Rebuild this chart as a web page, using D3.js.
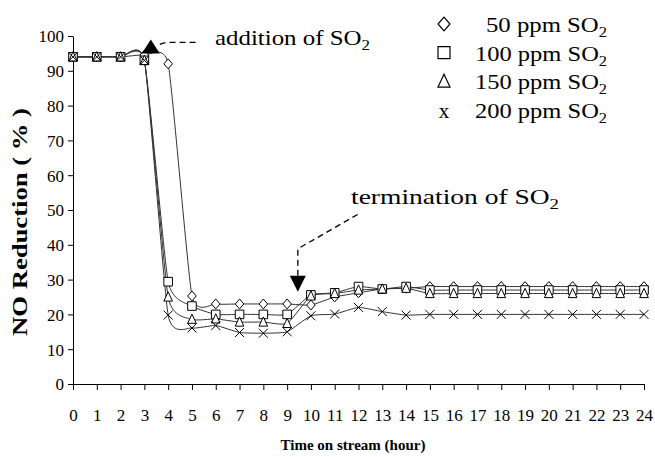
<!DOCTYPE html>
<html>
<head>
<meta charset="utf-8">
<script src="https://cdn.jsdelivr.net/npm/d3@7"></script>
</head>
<body style="margin:0;background:#fff">
<div id="chart"></div>
<script>
// hours on stream
var hours = [0, 1, 2, 3, 4, 5, 6, 7, 8, 9, 10, 11, 12, 13, 14, 15, 16, 17, 18, 19, 20, 21, 22, 23, 24];
// NO reduction (%) per SO2 level
var so2_50  = [94, 94, 94, 94.5, 92, 25.3, 23, 23, 23, 23, 22.7, 25, 26.2, 27.3, 27.5, 28, 28, 28, 28, 28, 28, 28, 28, 28, 28];
var so2_100 = [94, 94, 94, 93, 29.4, 22.4, 20, 20, 20, 20, 25.6, 26.2, 28, 27.3, 28, 27, 27, 27, 27, 27, 27, 27, 27, 27, 27];
var so2_150 = [94, 94, 94, 93, 25, 18.6, 18.7, 17.8, 17.8, 17.4, 25.3, 26, 27, 27.3, 27.5, 26, 26, 26, 26, 26, 26, 26, 26, 26, 26];
var so2_200 = [94, 94, 94, 93, 19.8, 16.1, 16.8, 14.8, 14.6, 15, 19.6, 20.1, 22, 20.8, 19.8, 20, 20, 20, 20, 20, 20, 20, 20, 20, 20];
var seriesLabels = ["50 ppm SO", "100 ppm SO", "150 ppm SO", "200 ppm SO"];
var seriesSymbols = ["diamond", "square", "triangle", "cross"];
var yTicks = [0, 10, 20, 30, 40, 50, 60, 70, 80, 90, 100];
// annotation anchors: [hour, %]
var additionAt = [3.27, 95];
var terminationAt = [9.45, 26.5];

var W = 655, H = 457;
var FONT = "Liberation Serif";
var svg = d3.select("#chart").append("svg")
    .attr("width", W)
    .attr("height", H)
    .style("display", "block");

function label(sel, size) {
  return sel.append("text")
      .attr("font-family", FONT)
      .attr("font-size", size)
      .attr("fill", "#000");
}

var x = d3.scaleLinear().domain([0, 24]).range([73, 644]);
var y = d3.scaleLinear().domain([0, 100]).range([384, 36]);

// axes
var xAxis = svg.append("g")
    .attr("transform", "translate(0," + y(0) + ")")
    .call(d3.axisBottom(x).tickValues(hours).tickSize(6).tickSizeOuter(0).tickFormat(d3.format("d")));
xAxis.select(".domain").attr("stroke", "#000");
xAxis.selectAll(".tick line").attr("stroke", "#000");
xAxis.selectAll(".tick text")
    .attr("font-family", FONT)
    .attr("font-size", 17)
    .attr("y", 0).attr("dy", 0)
    .attr("transform", "translate(0,37)")
    .attr("fill", "#000");

var yAxis = svg.append("g")
    .attr("transform", "translate(" + x(0) + ",0)")
    .call(d3.axisLeft(y).tickValues(yTicks).tickSize(5).tickSizeOuter(0));
yAxis.select(".domain").attr("stroke", "#000");
yAxis.selectAll(".tick line").attr("stroke", "#000");
yAxis.selectAll(".tick text")
    .attr("font-family", FONT)
    .attr("font-size", 17)
    .attr("x", -9)
    .attr("dy", "0.35em")
    .attr("fill", "#000");

// axis titles
label(svg, 15)
    .attr("x", 353).attr("y", 450)
    .attr("text-anchor", "middle")
    .attr("font-weight", "bold")
    .text("Time on stream (hour)");

label(svg, 21)
    .attr("transform", "translate(27,222) rotate(-90)")
    .attr("text-anchor", "middle")
    .attr("textLength", 228)
    .attr("lengthAdjust", "spacingAndGlyphs")
    .attr("font-weight", "bold")
    .text("NO Reduction ( % )");

// series
var allSeries = [so2_50, so2_100, so2_150, so2_200];
var line = d3.line()
    .x(function (d, i) { return x(hours[i]); })
    .y(function (d) { return y(d); })
    .curve(d3.curveCardinal.tension(0.5));

var lines = svg.append("g");
allSeries.forEach(function (s) {
  lines.append("path")
      .attr("d", line(s))
      .attr("fill", "none")
      .attr("stroke", "#333")
      .attr("stroke-width", 1);
});

function symbolPath(kind, r) {
  if (kind == "diamond") return "M0," + (-r * 1.15) + "L" + r + ",0L0," + (r * 1.15) + "L" + (-r) + ",0Z";
  if (kind == "square") return "M" + (-r) + "," + (-r) + "h" + (2 * r) + "v" + (2 * r) + "h" + (-2 * r) + "Z";
  if (kind == "triangle") return "M0," + (-r * 1.2) + "L" + r + "," + (r * 0.95) + "L" + (-r) + "," + (r * 0.95) + "Z";
  return "M" + (-r) + "," + (-r) + "L" + r + "," + r + "M" + r + "," + (-r) + "L" + (-r) + "," + r;
}

allSeries.forEach(function (s, k) {
  svg.append("g").selectAll("path")
    .data(s)
    .enter().append("path")
      .attr("transform", function (d, i) { return "translate(" + x(hours[i]) + "," + y(d) + ")"; })
      .attr("d", symbolPath(seriesSymbols[k], k == 3 ? 4.5 : 4.3))
      .attr("fill", k == 3 ? "none" : "#fff")
      .attr("stroke", "#000")
      .attr("stroke-width", 1);
});

// legend
var legend = svg.append("g");
var legendWidths = [121, 132, 132, 132];
seriesLabels.forEach(function (lab, k) {
  var by = 32 + k * 28.7;
  if (seriesSymbols[k] == "cross") {
    label(legend, 21)
        .attr("x", 444).attr("y", by)
        .attr("text-anchor", "middle")
        .text("x");
  } else {
    legend.append("path")
        .attr("transform", "translate(444," + (by - 8) + ")")
        .attr("d", symbolPath(seriesSymbols[k], 6))
        .attr("fill", "#fff")
        .attr("stroke", "#000")
        .attr("stroke-width", 1.2);
  }
  var t = label(legend, 21)
      .attr("x", 607 - legendWidths[k]).attr("y", by)
      .attr("textLength", legendWidths[k])
      .attr("lengthAdjust", "spacingAndGlyphs");
  t.append("tspan").text(lab);
  t.append("tspan").attr("dy", 5).attr("font-size", 14).text("2");
});

// annotation: addition of SO2
var ax = x(additionAt[0]), ay = y(additionAt[1]);
svg.append("path")
    .attr("d", "M" + (ax - 9) + "," + ay + "L" + ax + "," + (ay - 14) + "L" + (ax + 9) + "," + ay + "Z")
    .attr("fill", "#000");
svg.append("path")
    .attr("d", "M" + (ax + 9) + "," + (ay - 9) + "Q" + (ax + 13) + "," + (ay - 11) + " " + (ax + 18) + "," + (ay - 11) + "L" + (ax + 48) + "," + (ay - 11))
    .attr("fill", "none").attr("stroke", "#000").attr("stroke-width", 1.3)
    .attr("stroke-dasharray", "6,4");
var at = label(svg, 22)
    .attr("x", 215).attr("y", 45)
    .attr("textLength", 155)
    .attr("lengthAdjust", "spacingAndGlyphs");
at.append("tspan").text("addition of SO");
at.append("tspan").attr("dy", 5).attr("font-size", 15).text("2");

// annotation: termination of SO2
var tx = x(terminationAt[0]), ty = y(terminationAt[1]);
svg.append("path")
    .attr("d", "M" + (tx - 8) + "," + (ty - 16) + "L" + (tx + 8) + "," + (ty - 16) + "L" + tx + "," + ty + "Z")
    .attr("fill", "#000");
svg.append("path")
    .attr("d", "M" + tx + "," + (ty - 16) + "L" + tx + "," + (ty - 43) + "L" + (tx + 61) + "," + (ty - 78))
    .attr("fill", "none").attr("stroke", "#000").attr("stroke-width", 1.3)
    .attr("stroke-dasharray", "6,4");
var tt = label(svg, 22)
    .attr("x", 351).attr("y", 204)
    .attr("textLength", 208)
    .attr("lengthAdjust", "spacingAndGlyphs");
tt.append("tspan").text("termination of SO");
tt.append("tspan").attr("dy", 5).attr("font-size", 15).text("2");
</script>
</body>
</html>
